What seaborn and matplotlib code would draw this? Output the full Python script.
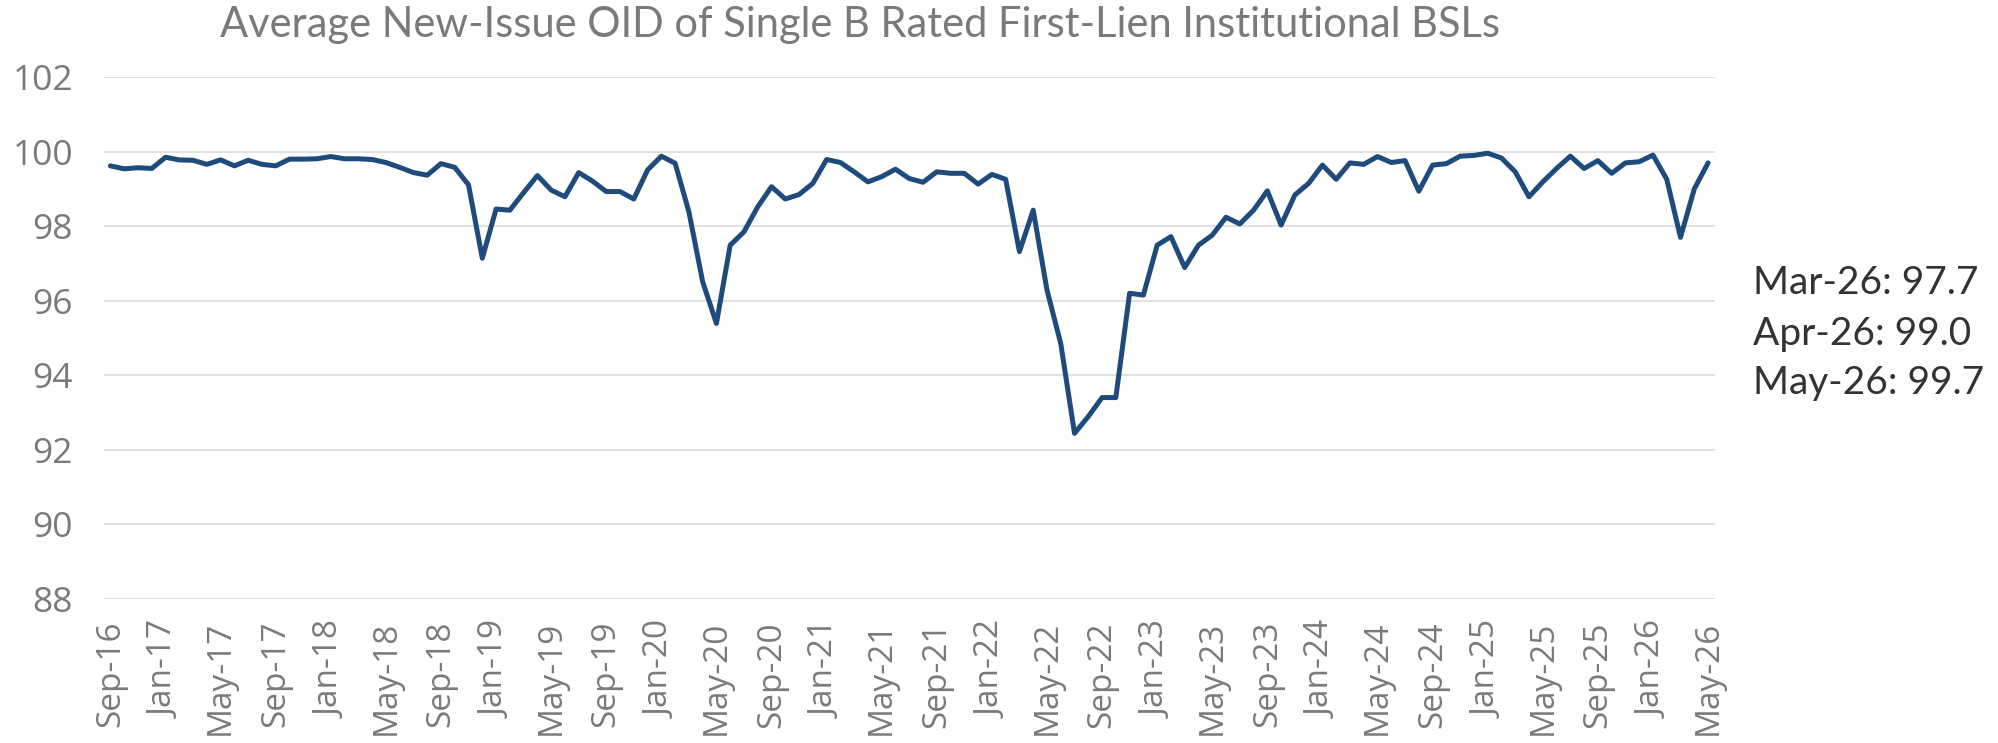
import pandas as pd
import seaborn as sns
import matplotlib.pyplot as plt

# monthly average new-issue OID, Sep-16 .. May-26
start_month = '2016-09-01'
oid = [
    99.62, 99.54, 99.57, 99.55, 99.85, 99.78, 99.77, 99.66, 99.78, 99.62,
    99.77, 99.66, 99.62, 99.80, 99.80, 99.81, 99.87, 99.81, 99.81, 99.79,
    99.71, 99.58, 99.44, 99.37, 99.68, 99.58, 99.11, 97.14, 98.46, 98.43,
    98.90, 99.36, 98.97, 98.79, 99.44, 99.21, 98.93, 98.93, 98.73, 99.51,
    99.88, 99.69, 98.39, 96.51, 95.39, 97.49, 97.85, 98.52, 99.06, 98.73,
    98.85, 99.15, 99.79, 99.71, 99.46, 99.19, 99.33, 99.53, 99.28, 99.18,
    99.46, 99.42, 99.42, 99.13, 99.39, 99.26, 97.32, 98.43, 96.29, 94.85,
    92.44, 92.89, 93.40, 93.40, 96.20, 96.15, 97.49, 97.72, 96.89, 97.49,
    97.76, 98.24, 98.06, 98.43, 98.95, 98.03, 98.84, 99.15, 99.64, 99.26,
    99.70, 99.66, 99.87, 99.71, 99.76, 98.94, 99.64, 99.68, 99.88, 99.90,
    99.96, 99.83, 99.46, 98.79, 99.19, 99.55, 99.88, 99.55, 99.76, 99.42,
    99.70, 99.73, 99.91, 99.26, 97.7, 99.0, 99.7,
]
y_ticks = [88, 90, 92, 94, 96, 98, 100, 102]
tick_every = 4

months = pd.date_range(start_month, periods=len(oid), freq='MS').strftime('%b-%y')
df = pd.DataFrame({'pos': range(len(oid)), 'month': months, 'oid': oid})

sns.set_theme(style="whitegrid")
plt.rcParams['font.family'] = ['Open Sans', 'DejaVu Sans']

fig = plt.figure(figsize=(19.99, 7.43), dpi=100)
ax = fig.add_axes([0.0518, 0.1942, 0.8061, 0.7019])

sns.lineplot(data=df, x='pos', y='oid', ax=ax, color='#1f4a7c', linewidth=3.6)

ax.set_xlim(-0.5, len(oid) - 0.5)
ax.set_ylim(88, 102)
ax.set_yticks(y_ticks)
ax.set_yticklabels([str(t) for t in y_ticks])
ticks = list(range(0, len(oid), tick_every))
ax.set_xticks(ticks)
ax.set_xticklabels([months[i] for i in ticks], rotation=90)
ax.set_xlabel('')
ax.set_ylabel('')

ax.grid(axis='x', visible=False)
ax.grid(axis='y', color='#d9d9d9', linewidth=1.1)
for s in ax.spines.values():
    s.set_visible(False)
ax.tick_params(axis='y', length=0, pad=22, labelsize=25.5, labelcolor='#7a7a7a')
ax.tick_params(axis='x', length=0, pad=16, labelsize=24, labelcolor='#7a7a7a')

fig.text(0.43, 0.966, 'Average New-Issue OID of Single B Rated First-Lien Institutional BSLs',
         ha='center', va='center', fontsize=30, color='#7a7a7a', family=['Lato', 'DejaVu Sans'])

# last three readings on the right
note_y = [0.619, 0.5505, 0.4845]
for k, yy in zip(range(len(oid) - 3, len(oid)), note_y):
    fig.text(0.877, yy, f'{months[k]}: {oid[k]:.1f}', ha='left', va='center',
             fontsize=28, color='#333333', family=['Lato', 'DejaVu Sans'])

plt.savefig('out.png', dpi=100)
